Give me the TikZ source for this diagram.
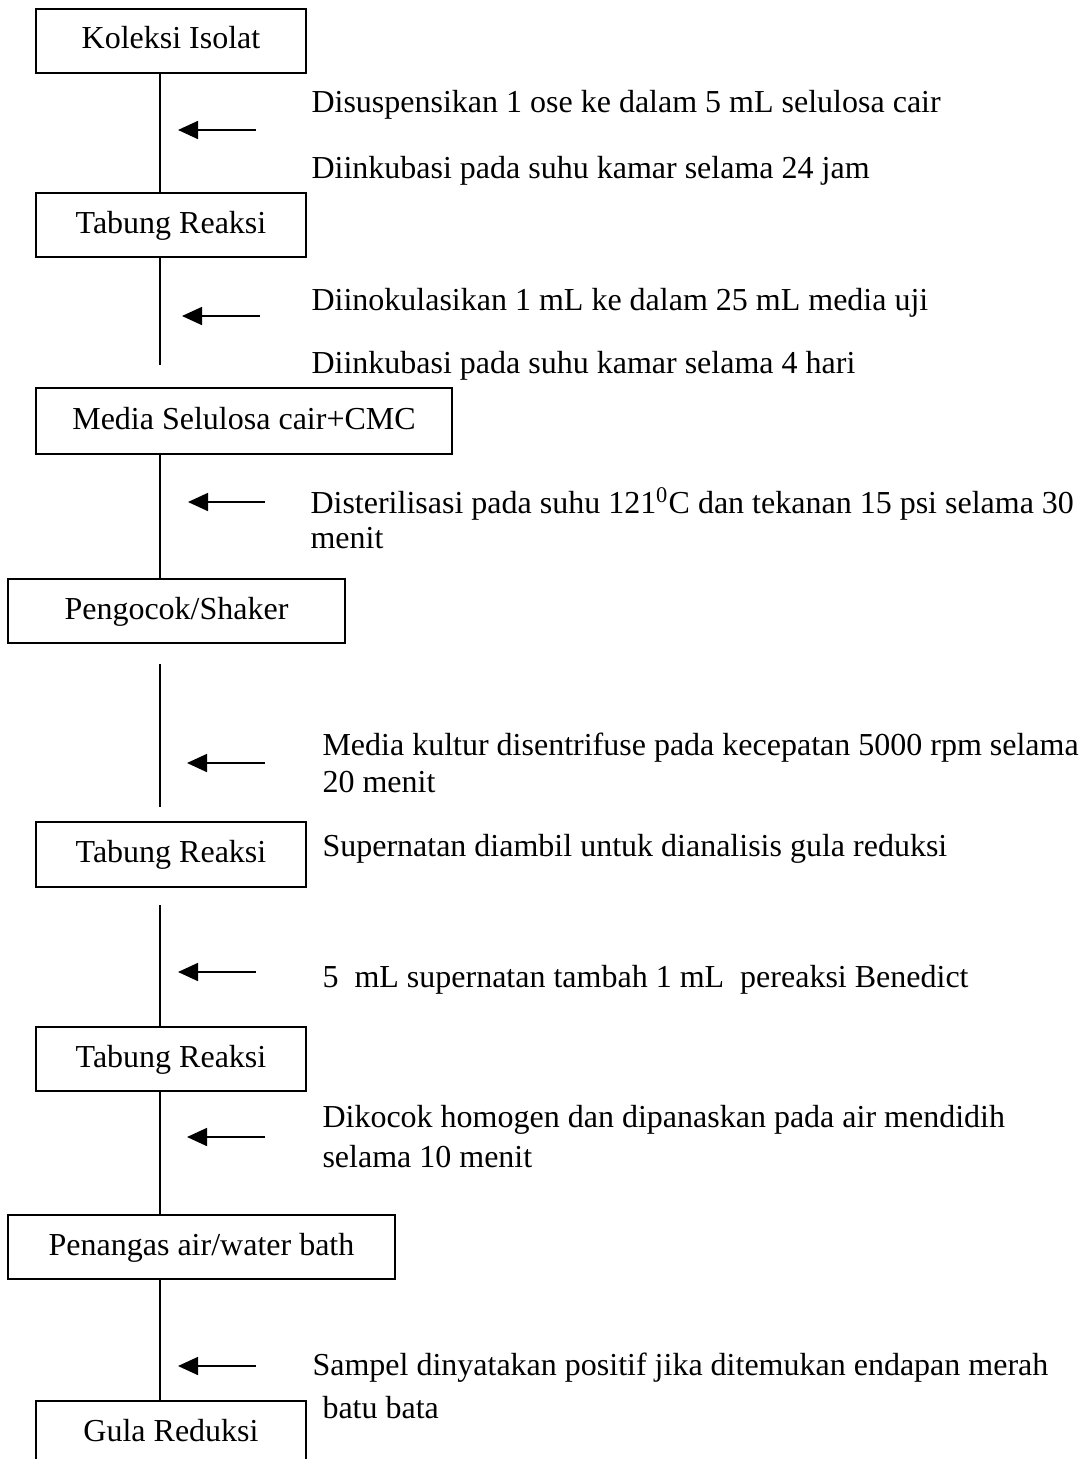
\documentclass[tikz,border=0pt]{standalone}
\usepackage{fontspec}
\setmainfont{Liberation Serif}
\usetikzlibrary{arrows.meta}

\tikzset{
  kotak/.style={draw, line width=0.65pt, minimum width=108pt, minimum height=25.6pt,
    inner sep=0pt, text height=8.8pt, text depth=2.4pt, font=\fontsize{12.8}{15}\selectfont},
  ket/.style={anchor=base west, inner sep=0pt, font=\fontsize{12.8}{15}\selectfont},
  garis/.style={line width=0.65pt},
  panah/.style={line width=0.65pt, -{Triangle[length=8pt,width=7.2pt]}}
}

\begin{document}
\begin{tikzpicture}[x=0.4pt,y=-0.4pt]
\useasboundingbox (0,0) rectangle (1086,1459);

% kotak tahapan
\node[kotak] (koleksi) at (171,41) {Koleksi Isolat};
\node[kotak] (tabung1) at (171,225) {Tabung Reaksi};
\node[kotak, minimum width=166.4pt, minimum height=26.4pt] (media) at (244,421) {Media Selulosa cair+CMC};
\node[kotak, minimum width=134.8pt] (shaker) at (176.5,611) {Pengocok/Shaker};
\node[kotak, minimum height=26pt] (tabung2) at (171,854.5) {Tabung Reaksi};
\node[kotak] (tabung3) at (171,1059) {Tabung Reaksi};
\node[kotak, minimum width=154.8pt] (penangas) at (201.5,1247) {Penangas air/water bath};
\node[kotak] (gula) at (171,1433) {Gula Reduksi};

% garis tegak
\coordinate (sumbu) at (160,0);
\coordinate (u2) at (160,365);
\coordinate (u4a) at (160,664);
\coordinate (u4b) at (160,807);
\coordinate (u5) at (160,905);
\draw[garis] (koleksi.south -| sumbu) -- (tabung1.north -| sumbu);
\draw[garis] (tabung1.south -| sumbu) -- (u2);
\draw[garis] (media.south -| sumbu) -- (shaker.north -| sumbu);
\draw[garis] (u4a) -- (u4b);
\draw[garis] (u5) -- (tabung3.north -| sumbu);
\draw[garis] (tabung3.south -| sumbu) -- (penangas.north -| sumbu);
\draw[garis] (penangas.south -| sumbu) -- (gula.north -| sumbu);

% panah
\foreach \i/\y/\xa/\xb in {1/130/256/178, 2/316/260/182, 3/502/265/188, 4/763/265/187,
                            5/972/256/178, 6/1137/265/187, 7/1366/256/178}{
  \coordinate (p\i) at (\xa,\y);
  \coordinate (q\i) at (\xb,\y);
  \draw[panah] (p\i) -- (q\i);
}

% keterangan
\node[ket] (k1a) at (311,113) {Disuspensikan 1 ose ke dalam 5 mL selulosa cair};
\node[ket] (k1b) at (311,178) {Diinkubasi pada suhu kamar selama 24 jam};
\node[ket] (k2a) at (311,310) {Diinokulasikan 1 mL ke dalam 25 mL media uji};
\node[ket] (k2b) at (311,373) {Diinkubasi pada suhu kamar selama 4 hari};
\node[ket] (k3a) at (310,513) {Disterilisasi pada suhu 121\textsuperscript{0}C dan tekanan 15 psi selama 30};
\node[ket] (k3b) at (310,548) {menit};
\node[ket] (k4a) at (322,755) {Media kultur disentrifuse pada kecepatan 5000 rpm selama};
\node[ket] (k4b) at (322,792) {20 menit};
\node[ket] (k5) at (322,856) {Supernatan diambil untuk dianalisis gula reduksi};
\node[ket] (k6) at (322,987) {5\ \ mL supernatan tambah 1 mL\ \ pereaksi Benedict};
\node[ket] (k7a) at (322,1127) {Dikocok homogen dan dipanaskan pada air mendidih};
\node[ket] (k7b) at (322,1167) {selama 10 menit};
\node[ket] (k8a) at (312,1375) {Sampel dinyatakan positif jika ditemukan endapan merah};
\node[ket] (k8b) at (322,1418) {batu bata};
\end{tikzpicture}
\end{document}
